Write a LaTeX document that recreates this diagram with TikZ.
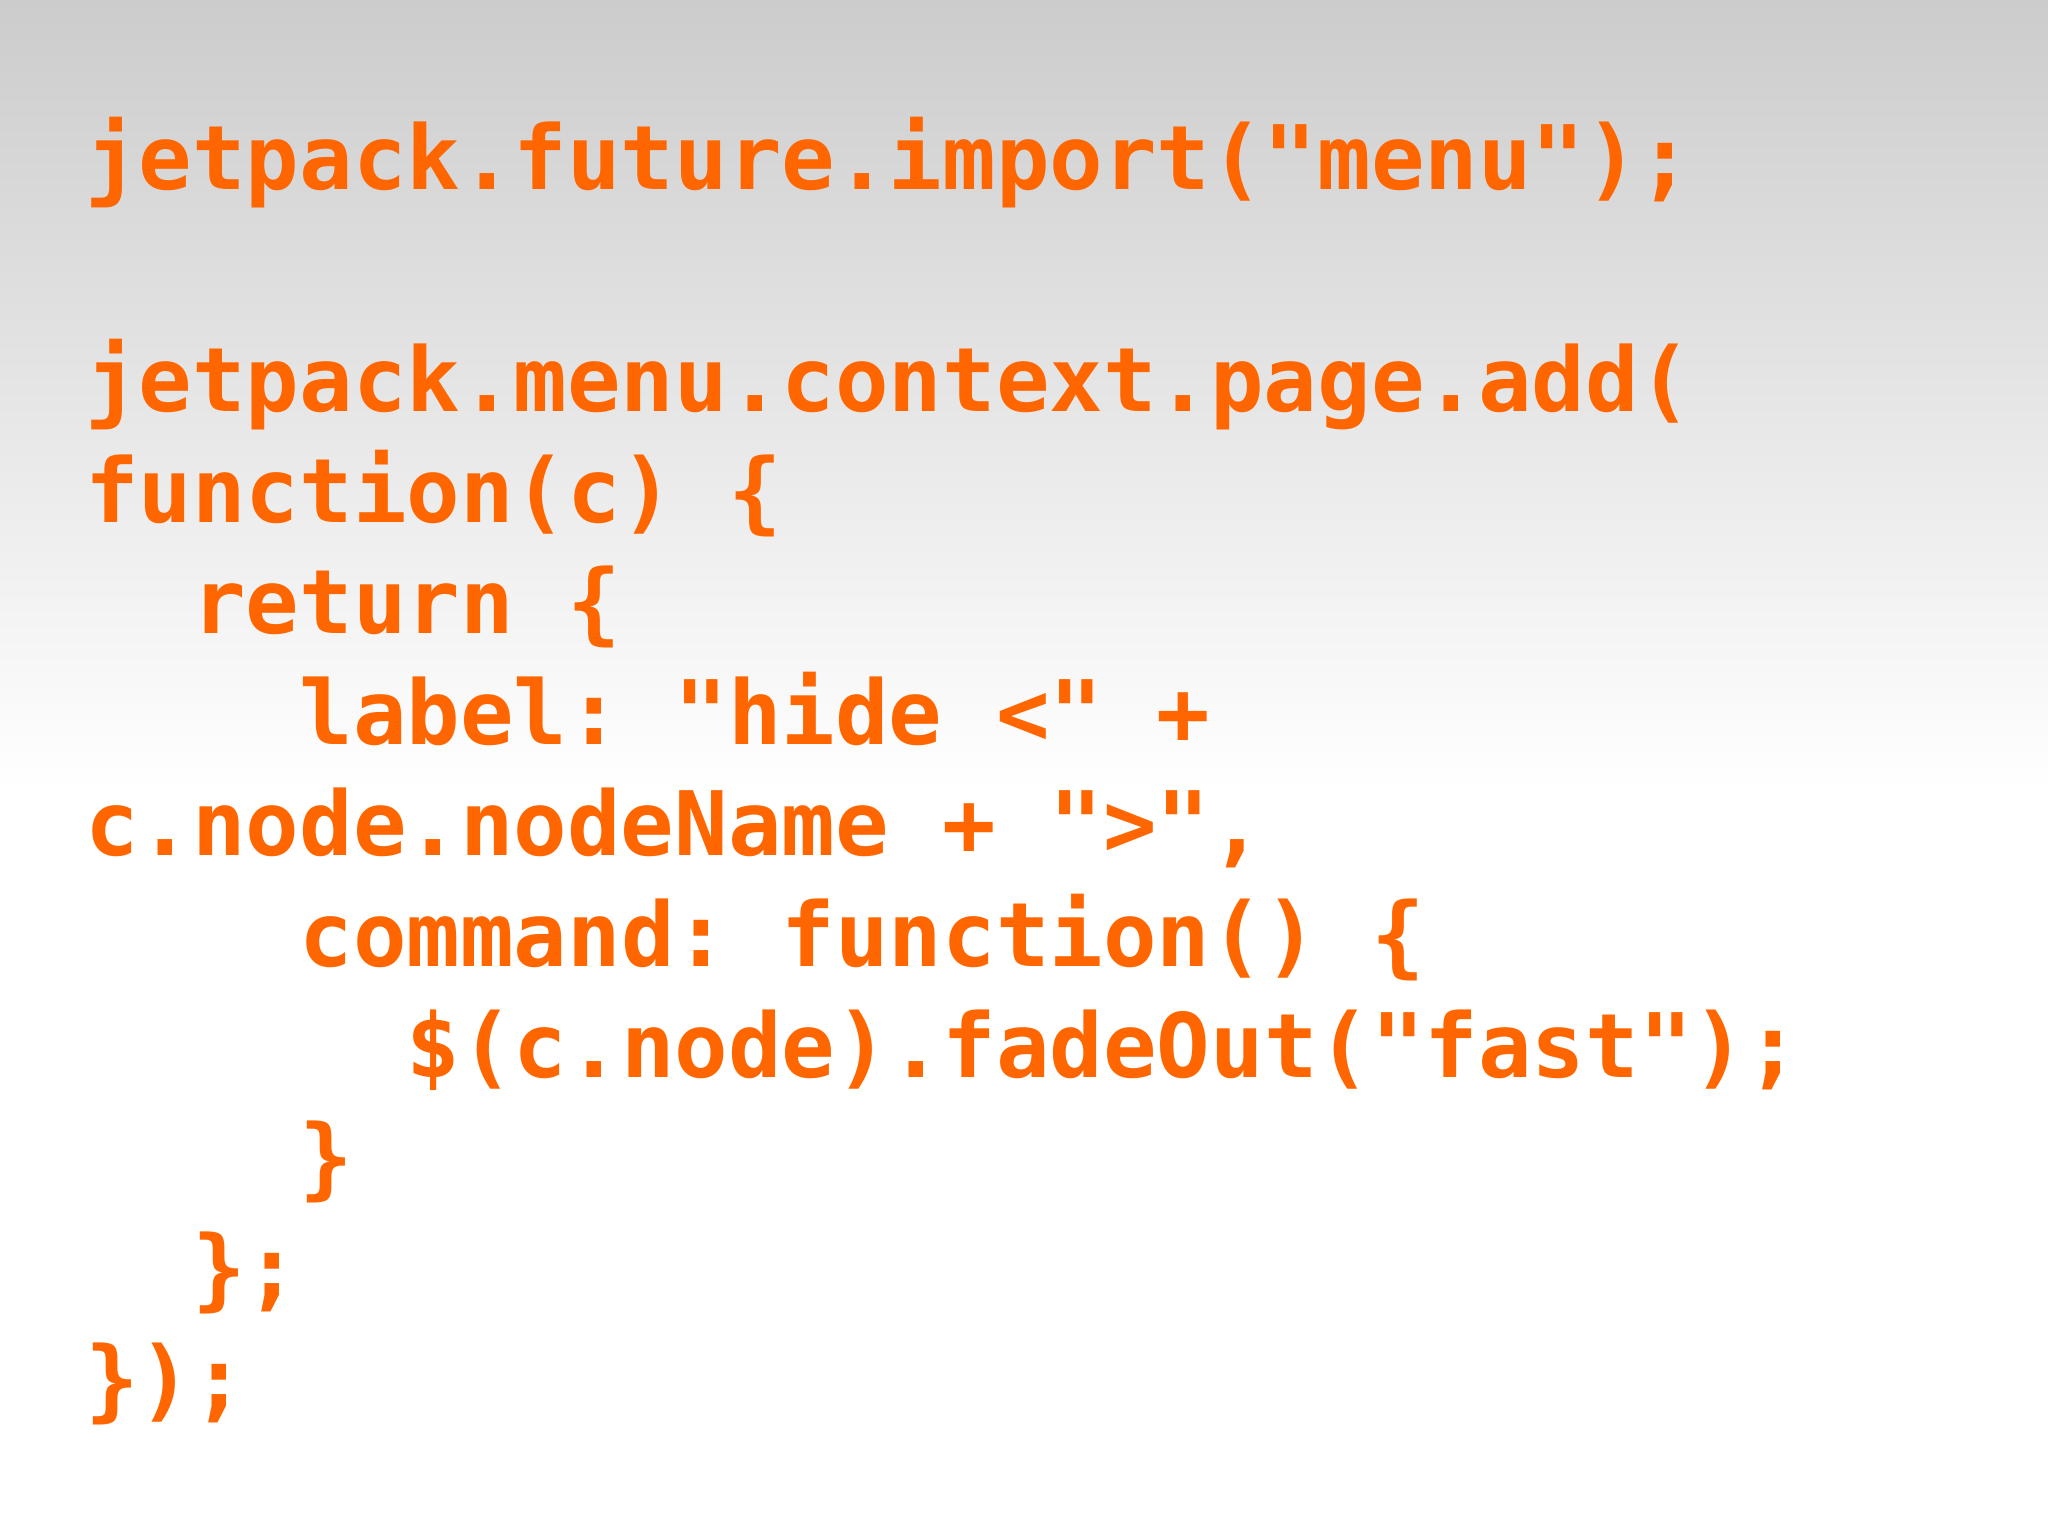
\documentclass[tikz,border=0pt]{standalone}
\usepackage{fontspec}
\setmonofont{DejaVu Sans Mono}
\definecolor{codeor}{HTML}{FF6600}
\definecolor{topgray}{HTML}{CCCCCC}
\begin{document}
\begin{tikzpicture}[x=1pt,y=-1pt,
  code/.style={anchor=base west,inner sep=0pt,text=codeor,font=\ttfamily\bfseries\fontsize{89}{100}\selectfont}]
\useasboundingbox (0,0) rectangle (2048,1535);
\fill[white] (0,0) rectangle (2048,1535);
\shade[top color=topgray,bottom color=white] (0,0) rectangle (2048,790);
\def\cw{53.6}
\def\lx{85}
\newcommand{\codeline}[3]{\node[code] (l#1) at (\lx+#2*\cw,189+111*#1) {#3};}
\codeline{0}{0}{jetpack.future.import("menu");}
\codeline{2}{0}{jetpack.menu.context.page.add(}
\codeline{3}{0}{function(c) \{}
\codeline{4}{2}{return \{}
\codeline{5}{4}{label: "hide <" +}
\codeline{6}{0}{c.node.nodeName + ">",}
\codeline{7}{4}{command: function() \{}
\codeline{8}{6}{\$(c.node).fadeOut("fast");}
\codeline{9}{4}{\}}
\codeline{10}{2}{\};}
\codeline{11}{0}{\});}
\end{tikzpicture}
\end{document}
